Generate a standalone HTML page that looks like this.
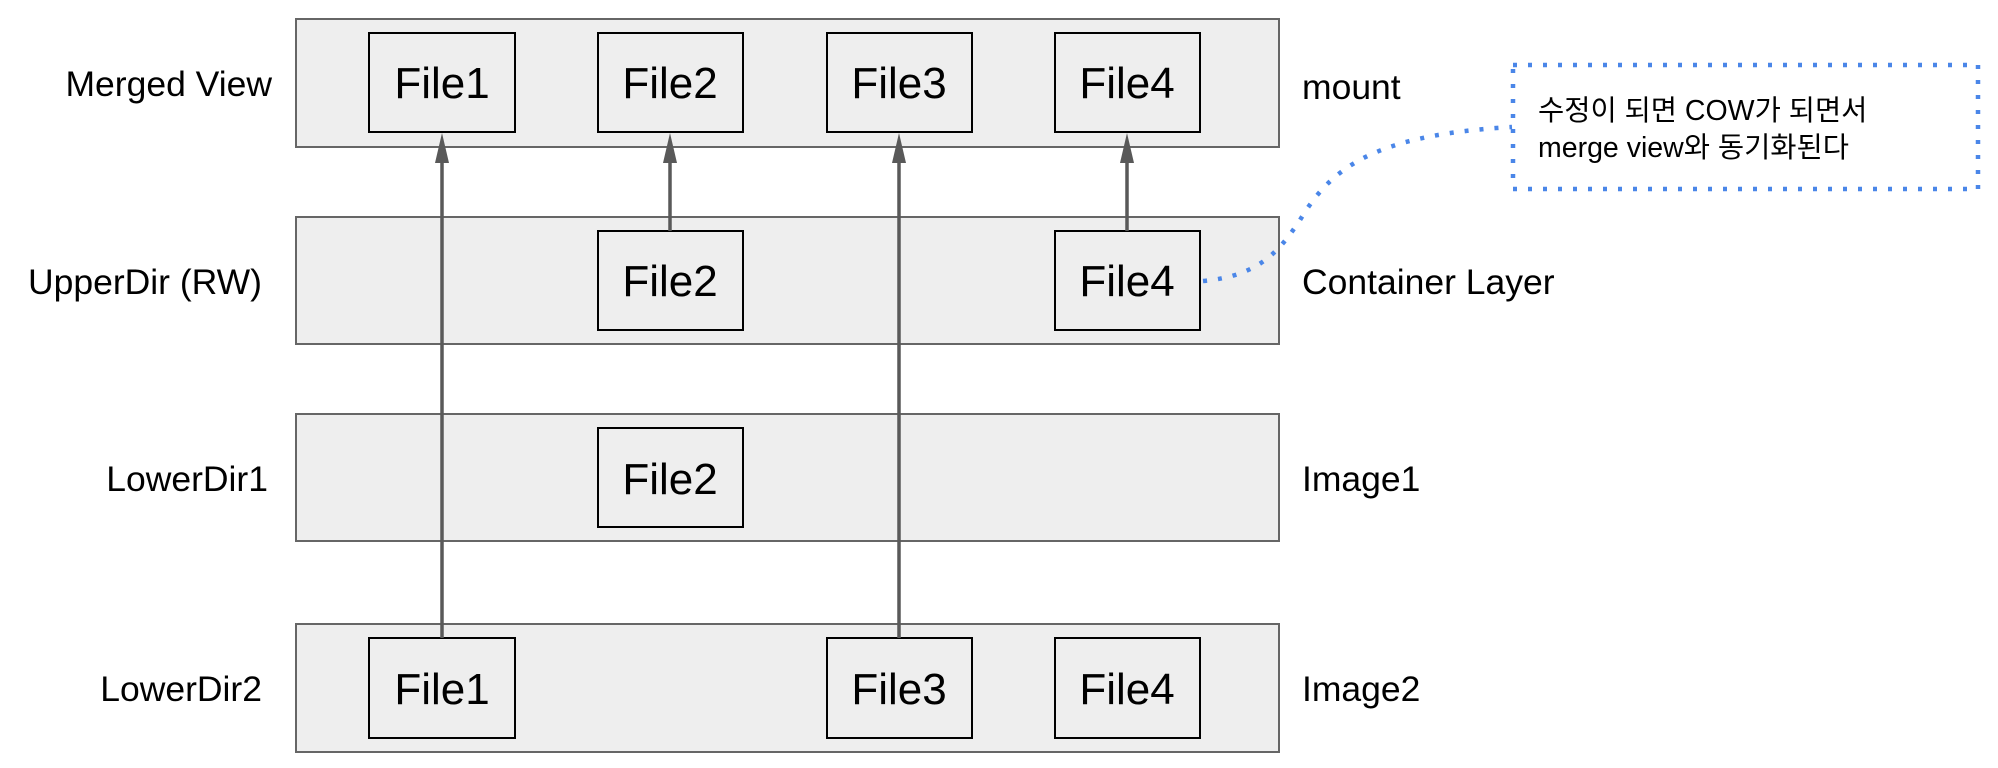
<!DOCTYPE html>
<html><head><meta charset="utf-8"><style>
html,body{margin:0;padding:0;background:#fff;}
body{width:1998px;height:768px;overflow:hidden;position:relative;font-family:"Liberation Sans","Noto Sans CJK KR",sans-serif;}
</style></head><body>
<svg width="1998" height="768" xmlns="http://www.w3.org/2000/svg" style="position:absolute;left:0;top:0">
<g fill="#eeeeee" stroke="#666" stroke-width="2">
<rect x="296" y="19" width="983" height="128"/>
<rect x="296" y="217" width="983" height="127"/>
<rect x="296" y="414" width="983" height="127"/>
<rect x="296" y="624" width="983" height="128"/>
</g>
<g fill="#eeeeee" stroke="#000" stroke-width="2">
<rect x="369" y="33" width="146" height="99"/>
<rect x="598" y="33" width="145" height="99"/>
<rect x="827" y="33" width="145" height="99"/>
<rect x="1055" y="33" width="145" height="99"/>
<rect x="598" y="231" width="145" height="99"/>
<rect x="1055" y="231" width="145" height="99"/>
<rect x="598" y="428" width="145" height="99"/>
<rect x="369" y="638" width="146" height="100"/>
<rect x="827" y="638" width="145" height="100"/>
<rect x="1055" y="638" width="145" height="100"/>
</g>
<g stroke="#595959" stroke-width="3.5">
<line x1="442" y1="638" x2="442" y2="152"/>
<line x1="670" y1="231" x2="670" y2="152"/>
<line x1="899" y1="638" x2="899" y2="152"/>
<line x1="1127" y1="231" x2="1127" y2="152"/>
</g>
<g fill="#595959">
<polygon points="442,133 435,163 449,163"/>
<polygon points="670,133 663,163 677,163"/>
<polygon points="899,133 892,163 906,163"/>
<polygon points="1127,133 1120,163 1134,163"/>
</g>
<path d="M1203,281 C1260,276 1280,250 1300,220 C1330,170 1370,135 1512,127" fill="none" stroke="#4a86e8" stroke-width="4.5" stroke-dasharray="4,11"/>
<rect x="1513" y="65" width="465" height="124" fill="none" stroke="#4a86e8" stroke-width="4.5" stroke-dasharray="4,11"/>
<g font-size="44" text-anchor="middle" fill="#000" font-family="Liberation Sans, sans-serif">
<text x="442" y="98">File1</text><text x="670" y="98">File2</text><text x="899" y="98">File3</text><text x="1127" y="98">File4</text>
<text x="670" y="296">File2</text><text x="1127" y="296">File4</text>
<text x="670" y="494">File2</text>
<text x="442" y="704">File1</text><text x="899" y="704">File3</text><text x="1127" y="704">File4</text>
</g>
<g font-size="35.5" fill="#000" font-family="Liberation Sans, sans-serif">
<g text-anchor="end">
<text x="272" y="96">Merged View</text>
<text x="262" y="294">UpperDir (RW)</text>
<text x="268" y="491">LowerDir1</text>
<text x="262" y="701">LowerDir2</text>
</g>
<text x="1302" y="99">mount</text>
<text x="1302" y="294">Container Layer</text>
<text x="1302" y="491">Image1</text>
<text x="1302" y="701">Image2</text>
</g>
<g font-size="28.5" fill="#000" font-family="Liberation Sans, Noto Sans CJK KR, sans-serif">
<text x="1538" y="120">수정이 되면 COW가 되면서</text>
<text x="1538" y="157">merge view와 동기화된다</text>
</g>
</svg>
</body></html>
